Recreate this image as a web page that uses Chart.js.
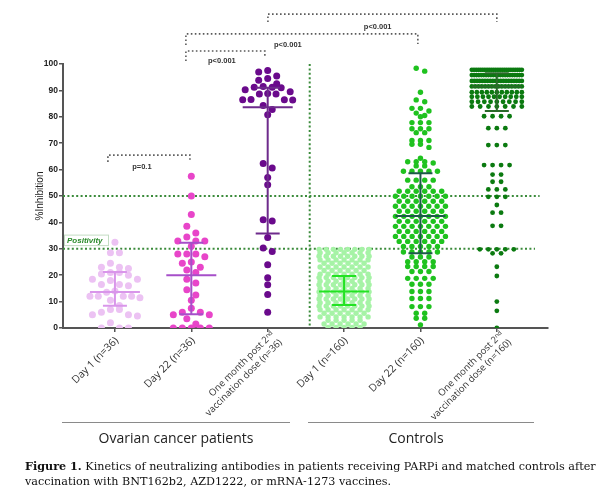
<!DOCTYPE html>
<html>
<head>
<meta charset="utf-8">
<script src="https://cdn.jsdelivr.net/npm/chart.js@4/dist/chart.umd.min.js"></script>
<style>
html, body { margin: 0; padding: 0; background: #fff; }
#marco { position: relative; width: 600px; height: 497px; overflow: hidden; }
#grafica { position: absolute; left: 0; top: 0; }
.raya { position: absolute; top: 422px; height: 0; border-top: 1.5px solid #8a8a8a; }
.grupo { position: absolute; top: 428px; font: 14px "Open Sans", sans-serif; color: #222; text-align: center; }
#pie { position: absolute; left: 25px; top: 459px; font: 11.2px "DejaVu Serif", serif; line-height: 15px; white-space: nowrap; color: #111; }
</style>
</head>
<body>
<div id="marco">
    <canvas id="grafica" width="600" height="497"></canvas>
    <div class="raya" style="left:62px;width:228px"></div>
    <div class="raya" style="left:308px;width:226px"></div>
    <div class="grupo" style="left:62px;width:228px">Ovarian cancer patients</div>
    <div class="grupo" style="left:303px;width:226px">Controls</div>
    <div id="pie"><b>Figure 1.</b> Kinetics of neutralizing antibodies in patients receiving PARPi and matched controls after<br>vaccination with BNT162b2, AZD1222, or mRNA-1273 vaccines.</div>
</div>
<script>
var categorias = [1, 2, 3, 4, 5, 6];
var etiquetas = [
    'Day 1 (n=36)',
    'Day 22 (n=36)',
    ['One month post 2\u207F\u1D48', 'vaccination dose (n=36)'],
    'Day 1 (n=160)',
    'Day 22 (n=160)',
    ['One month post 2\u207F\u1D48', 'vaccination dose (n=160)']
];
var ticksY = [0, 10, 20, 30, 40, 50, 60, 70, 80, 90, 100];

var ovDia1 = [32.5, 28.5, 28.5, 24.5, 23, 23, 22.5, 21, 21, 20.5, 20, 18.5, 18.5, 18, 16.5, 16.5, 16, 14,
    13.5, 12, 12, 12, 12, 11.5, 10.5, 8.5, 7, 7, 6, 5, 5, 4.5, 2, 0, 0, 0];
var ovDia22 = [57.5, 50, 43, 38.5, 36, 34.5, 33, 33, 33, 31, 28, 28, 28, 27, 25, 24.5, 23, 22,
    21, 18.5, 17, 14.5, 12.5, 10.5, 7.5, 6, 6, 5, 5, 3.5, 1.5, 0, 0, 0, 0, 0];
var ovMes = [97.5, 97, 95.5, 94.5, 93.8, 92.5, 91.5, 91.2, 91.2, 91, 90.2, 89.5, 88.8, 88.6, 88.6, 86.6, 86.5, 86.5,
    86.4, 84.3, 82.8, 80.8, 62.3, 60.6, 57, 54.3, 41, 40.5, 34.3, 30.3, 29, 24, 19, 16.4, 12.7, 6];
var ctDia1 = [
    29.8, 29.8, 29.8, 29.8, 29.8, 29.8, 29.8, 29.8,
    28.5, 28.5, 28.5, 28.5, 28.5, 28.5, 28.5,
    27.2, 27.2, 27.2, 27.2, 27.2, 27.2, 27.2, 27.2,
    25.8, 25.8, 25.8, 25.8, 25.8, 25.8, 25.8,
    24.5, 24.5, 24.5, 24.5, 24.5, 24.5,
    23.1, 23.1, 23.1, 23.1, 23.1, 23.1, 23.1,
    21.8, 21.8, 21.8, 21.8, 21.8, 21.8,
    20.4, 20.4, 20.4, 20.4, 20.4, 20.4, 20.4,
    19.1, 19.1, 19.1, 19.1, 19.1, 19.1, 19.1, 19.1,
    17.7, 17.7, 17.7, 17.7, 17.7, 17.7, 17.7,
    16.4, 16.4, 16.4, 16.4, 16.4, 16.4, 16.4, 16.4,
    15, 15, 15, 15, 15, 15, 15,
    13.7, 13.7, 13.7, 13.7, 13.7, 13.7, 13.7, 13.7,
    12.3, 12.3, 12.3, 12.3, 12.3, 12.3, 12.3,
    11, 11, 11, 11, 11, 11, 11, 11,
    9.6, 9.6, 9.6, 9.6, 9.6, 9.6, 9.6,
    8.3, 8.3, 8.3, 8.3, 8.3, 8.3, 8.3, 8.3,
    6.9, 6.9, 6.9, 6.9, 6.9, 6.9, 6.9,
    5.6, 5.6, 5.6, 5.6, 5.6, 5.6,
    4.2, 4.2, 4.2, 4.2, 4.2, 4.2, 4.2,
    2.9, 2.9, 2.9, 2.9, 2.9,
    1.5, 1.5, 1.5, 1.5, 1.5, 1.5,
    0.2, 0.2, 0.2, 0.2, 0.2
];
var ctDia22 = [
    98.4, 97.3, 89.3, 86.4, 85.7, 83.2, 83.2, 82.2, 81.4, 80.5, 80,
    77.8, 77.8, 77.8, 75.5, 75.5, 75.5, 74, 74, 71, 71, 71, 69.6, 69.6, 68.4,
    64.3, 63, 63, 63, 62.5, 61.4, 61.4, 59.4, 59.4, 59.4, 59.4, 59.4,
    56, 56, 56, 56, 53.5, 53.5, 53.5,
    51.8, 51.8, 51.8, 51.8, 51.8, 51.8,
    49.9, 49.9, 49.9, 49.9, 49.9, 49.9, 49.9,
    48, 48, 48, 48, 48, 48,
    46.1, 46.1, 46.1, 46.1, 46.1, 46.1, 46.1,
    44.2, 44.2, 44.2, 44.2, 44.2, 44.2,
    42.3, 42.3, 42.3, 42.3, 42.3, 42.3, 42.3,
    40.4, 40.4, 40.4, 40.4, 40.4, 40.4,
    38.5, 38.5, 38.5, 38.5, 38.5, 38.5, 38.5,
    36.6, 36.6, 36.6, 36.6, 36.6, 36.6,
    34.7, 34.7, 34.7, 34.7, 34.7, 34.7, 34.7,
    32.8, 32.8, 32.8, 32.8, 32.8, 32.8,
    30.9, 30.9, 30.9, 30.9, 30.9,
    28.8, 28.8, 28.8, 28.8, 28.8,
    26.9, 26.9, 26.9, 25.1, 25.1, 25.1, 25.1, 23.3, 23.3, 23.3, 23.3,
    21.4, 21.4, 21.4, 18.8, 18.8, 18.8, 18.8, 16.6, 16.6, 16.6,
    13.8, 13.8, 13.8, 11.2, 11.2, 11.2, 8.1, 8.1, 8.1, 5.6, 5.6, 3.7, 3.7, 1.2
];
var ctMes = [
    97.8, 97.8, 97.8, 97.8, 97.8, 97.8, 97.8, 97.8, 97.8, 97.8, 97.8, 97.8,
    97.8, 97.8, 97.8, 97.8, 97.8, 97.8, 97.8, 97.8, 97.8, 97.8, 97.8, 97.8,
    95.8, 95.8, 95.8, 95.8, 95.8, 95.8, 95.8, 95.8, 95.8, 95.8, 95.8,
    95.8, 95.8, 95.8, 95.8, 95.8, 95.8, 95.8, 95.8, 95.8, 95.8, 95.8,
    93.6, 93.6, 93.6, 93.6, 93.6, 93.6, 93.6, 93.6, 93.6, 93.6,
    93.6, 93.6, 93.6, 93.6, 93.6, 93.6, 93.6, 93.6, 93.6, 93.6,
    91.5, 91.5, 91.5, 91.5, 91.5, 91.5, 91.5, 91.5, 91.5, 91.5, 91.5, 91.5, 91.5, 91.5, 91.5, 91.5,
    89.3, 89.3, 89.3, 89.3, 89.3, 89.3, 89.3, 89.3, 89.3, 89.3, 89.3,
    87.6, 87.6, 87.6, 87.6, 87.6, 87.6, 87.6, 87.6, 87.6, 87.6,
    85.7, 85.7, 85.7, 85.7, 85.7, 85.7, 85.7, 85.7, 85.7,
    83.9, 83.9, 83.9, 83.9, 83.9, 83.9, 83.9,
    80.2, 80.2, 80.2, 80.2, 75.7, 75.7, 75.7, 69.3, 69.3, 69.3,
    61.7, 61.7, 61.7, 61.7, 58.1, 58.1, 55.4, 55.4, 52.5, 52.5, 52.5,
    49.7, 49.7, 49.7, 46.6, 43.7, 43.7, 38.7, 38.7,
    29.8, 29.8, 29.8, 29.8, 29.8, 28.3, 28.3, 23.2, 19.7, 10, 6.5, 0
];

// media y barras
var medias = [13.6, 20, 83.6, 13.8, 42.4, 91.5];
var barraSup = [21.2, 32.3, 91, 19.7, 58.6, 96.5];
var barraInf = [8.4, 5.2, 35.8, 8.7, 28.3, 82.2];

var X_MIN = 0.32, X_MAX = 6.67;
var PX_X = (548 - 63) / (X_MAX - X_MIN);
var PX_Y = 2.64;

var grupos = [
    { datos: ovDia1, color: '#ecc2f3', barra: '#d996ea', radio: 3.5, hueco: 9, fila: 2.6 },
    { datos: ovDia22, color: '#e845c9', barra: '#a64fc9', radio: 3.5, hueco: 9, fila: 2.6 },
    { datos: ovMes, color: '#6a0a8c', barra: '#6e2b8c', radio: 3.5, hueco: 9, fila: 2.6 },
    { datos: ctDia1, color: '#a6f3a6', barra: '#22e322', radio: 2.7, hueco: 8, fila: 1.2 },
    { datos: ctDia22, color: '#1fc21f', barra: '#1c5a48', radio: 2.7, hueco: 8.5, fila: 1.2 },
    { datos: ctMes, color: '#0b7a10', barra: '#2a6a2a', radio: 2.4, hueco: 8.5, fila: 1.2 }
];

// filas de puntos lado a lado, como en GraphPad
function enjambre(valores, centro, hueco, alto, maxMedio) {
    var orden = valores.slice().sort(function (a, b) { return b - a; });
    var puntos = [];
    var i = 0;
    while (i < orden.length) {
        var fila = [orden[i]];
        var j = i + 1;
        while (j < orden.length && orden[i] - orden[j] < alto) { fila.push(orden[j]); j++; }
        var n = fila.length;
        var paso = n > 1 ? Math.min(hueco, 2 * maxMedio / (n - 1)) : 0;
        var offs = [];
        for (var k = 0; k < n; k++) offs.push((k - (n - 1) / 2) * paso);
        offs.sort(function (a, b) { return Math.abs(a) - Math.abs(b); });
        for (k = 0; k < n; k++) puntos.push({ x: centro + offs[k] / PX_X, y: fila[k] });
        i = j;
    }
    return puntos;
}

var corchetes = [
    { x1: 3.003, x2: 6.0, y: 118.9, b1: 115.9, b2: 115.9, tx: 4.44, ty: 114, texto: 'p<0.001' },
    { x1: 1.929, x2: 4.966, y: 111.4, b1: 107.2, b2: 107.6, tx: 3.264, ty: 107.2, texto: 'p<0.001' },
    { x1: 1.929, x2: 2.963, y: 104.9, b1: 101.1, b2: 102.3, tx: 2.40, ty: 101.1, texto: 'p<0.001' },
    { x1: 0.908, x2: 1.982, y: 65.5, b1: 62.9, b2: 62.9, tx: 1.353, ty: 61, texto: 'p=0.1' }
];

var dibujos = {
    id: 'dibujos',
    beforeDatasetsDraw: function (chart) {
        var ctx = chart.ctx, x = chart.scales.x, y = chart.scales.y;
        ctx.save();
        ctx.strokeStyle = '#3b8b3b';
        ctx.lineWidth = 2;
        ctx.setLineDash([2, 2.4]);
        ctx.beginPath();
        ctx.moveTo(x.getPixelForValue(X_MIN), y.getPixelForValue(50));
        ctx.lineTo(x.getPixelForValue(6.56), y.getPixelForValue(50));
        ctx.moveTo(x.getPixelForValue(X_MIN), y.getPixelForValue(30));
        ctx.lineTo(x.getPixelForValue(6.5), y.getPixelForValue(30));
        ctx.moveTo(x.getPixelForValue(3.55), y.getPixelForValue(100));
        ctx.lineTo(x.getPixelForValue(3.55), y.getPixelForValue(0));
        ctx.stroke();
        ctx.setLineDash([]);
        // recuadro Positivity
        var px = x.getPixelForValue(X_MIN) + 1, py = y.getPixelForValue(35);
        ctx.fillStyle = '#fff';
        ctx.fillRect(px, py - 1, 44, 11);
        ctx.strokeStyle = '#c3dcc3';
        ctx.lineWidth = 1;
        ctx.strokeRect(px + 0.5, py - 0.5, 44, 10.5);
        ctx.fillStyle = '#2a8a2a';
        ctx.font = 'italic bold 8px "Liberation Sans", Arial, sans-serif';
        ctx.textBaseline = 'middle';
        ctx.fillText('Positivity', px + 3, py + 5);
        ctx.restore();
    },
    afterDatasetsDraw: function (chart) {
        var ctx = chart.ctx, x = chart.scales.x, y = chart.scales.y;
        ctx.save();
        for (var i = 0; i < categorias.length; i++) {
            var cx = x.getPixelForValue(categorias[i]);
            var ym = y.getPixelForValue(medias[i]);
            var ys = y.getPixelForValue(barraSup[i]);
            var yi = y.getPixelForValue(barraInf[i]);
            ctx.strokeStyle = grupos[i].barra;
            ctx.lineWidth = 2;
            ctx.beginPath();
            ctx.moveTo(cx, ys); ctx.lineTo(cx, yi);
            ctx.moveTo(cx - 25, ym); ctx.lineTo(cx + 25, ym);
            ctx.moveTo(cx - 12, ys); ctx.lineTo(cx + 12, ys);
            ctx.moveTo(cx - 12, yi); ctx.lineTo(cx + 12, yi);
            ctx.stroke();
        }
        ctx.strokeStyle = '#5a5a5a';
        ctx.lineWidth = 1.6;
        ctx.setLineDash([1.6, 2.4]);
        ctx.font = 'bold 7.5px "Liberation Sans", Arial, sans-serif';
        ctx.fillStyle = '#333';
        ctx.textAlign = 'center';
        ctx.textBaseline = 'middle';
        corchetes.forEach(function (c) {
            var a = x.getPixelForValue(c.x1), b = x.getPixelForValue(c.x2), h = y.getPixelForValue(c.y);
            ctx.beginPath();
            ctx.moveTo(a, y.getPixelForValue(c.b1));
            ctx.lineTo(a, h);
            ctx.lineTo(b, h);
            ctx.lineTo(b, y.getPixelForValue(c.b2));
            ctx.stroke();
            ctx.fillText(c.texto, x.getPixelForValue(c.tx), y.getPixelForValue(c.ty));
        });
        ctx.restore();
    },
    afterDraw: function (chart) {
        // etiquetas del eje x, giradas 45 grados
        var ctx = chart.ctx, x = chart.scales.x, base = chart.chartArea.bottom;
        ctx.save();
        ctx.fillStyle = '#333';
        ctx.textAlign = 'right';
        ctx.textBaseline = 'middle';
        etiquetas.forEach(function (e, i) {
            var cx = x.getPixelForValue(categorias[i]);
            var lineas = Array.isArray(e) ? e : [e];
            lineas.forEach(function (t, k) {
                var ax, ay;
                if (lineas.length === 1) {
                    ax = cx + 2; ay = base + 11;
                    ctx.font = '10.5px "Open Sans", sans-serif';
                } else {
                    ax = cx + 5 + 8 * k; ay = base + 5 + 8 * k;
                    ctx.font = '9.5px "Open Sans", sans-serif';
                }
                ctx.save();
                ctx.translate(ax, ay);
                ctx.rotate(-Math.PI / 4);
                ctx.fillText(t, 0, 0);
                ctx.restore();
            });
        });
        ctx.restore();
    }
};

var ctx = document.getElementById('grafica').getContext('2d');
var myChart = new Chart(ctx, {
    type: 'scatter',
    data: {
        datasets: grupos.map(function (g, i) {
            return {
                data: enjambre(g.datos, categorias[i], g.hueco, g.fila, 25),
                backgroundColor: g.color,
                borderWidth: 0,
                pointRadius: g.radio,
                pointHoverRadius: g.radio
            };
        })
    },
    options: {
        responsive: false,
        animation: false,
        layout: { autoPadding: false, padding: { left: 18, right: 52, top: 64, bottom: 0 } },
        plugins: { legend: { display: false }, tooltip: { enabled: false } },
        scales: {
            x: {
                type: 'linear',
                min: X_MIN,
                max: X_MAX,
                afterBuildTicks: function (s) { s.ticks = categorias.map(function (v) { return { value: v }; }); },
                afterFit: function (s) { s.height = 169; },
                ticks: { display: false },
                grid: { drawOnChartArea: false, tickLength: 4, color: '#555', lineWidth: 1.5 },
                border: { color: '#555', width: 2 }
            },
            y: {
                min: 0,
                max: 100,
                afterBuildTicks: function (s) { s.ticks = ticksY.map(function (v) { return { value: v }; }); },
                afterFit: function (s) { s.width = 45; },
                ticks: {
                    padding: 1,
                    color: '#222',
                    font: { family: '"Liberation Sans", Arial, sans-serif', size: 8.5, weight: 'bold' }
                },
                title: {
                    display: true,
                    text: '%Inhibition',
                    color: '#222',
                    padding: { top: 16, bottom: 0 },
                    font: { family: '"Liberation Sans", Arial, sans-serif', size: 10 }
                },
                grid: { drawOnChartArea: false, tickLength: 4, color: '#555', lineWidth: 1.5 },
                border: { color: '#555', width: 2 }
            }
        }
    },
    plugins: [dibujos]
});
</script>
</body>
</html>
